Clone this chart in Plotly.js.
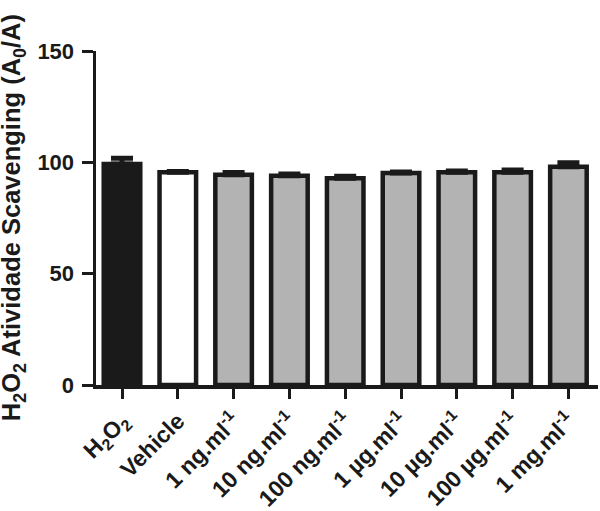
<!DOCTYPE html>
<html>
<head>
<meta charset="utf-8">
<script src="https://cdn.plot.ly/plotly-3.0.1.min.js"></script>
<style>
  html, body { margin: 0; padding: 0; background: #fff; }
  #chart { width: 600px; height: 511px; }
</style>
</head>
<body>
<div id="chart"></div>
<script>
// groups on the x axis
const categories = [
    'H<sub>2</sub>O<sub>2</sub>',
    'Vehicle',
    '1 ng.ml<sup>-1</sup>',
    '10 ng.ml<sup>-1</sup>',
    '100 ng.ml<sup>-1</sup>',
    '1 µg.ml<sup>-1</sup>',
    '10 µg.ml<sup>-1</sup>',
    '100 µg.ml<sup>-1</sup>',
    '1 mg.ml<sup>-1</sup>'
];
// mean scavenging activity and upper error (SEM)
const means = [99.2, 95.5, 94.4, 94.0, 92.8, 95.2, 95.6, 95.6, 98.0];
const errors = [2.6, 0.4, 1.0, 0.8, 1.0, 0.5, 0.5, 1.0, 1.8];
const fills = ['#1a1a1a', '#ffffff', '#b3b3b3', '#b3b3b3', '#b3b3b3', '#b3b3b3', '#b3b3b3', '#b3b3b3', '#b3b3b3'];
const yTicks = [0, 50, 100, 150];

const ink = '#1a1a1a';
const font = { family: 'Liberation Sans, Arial, sans-serif', size: 22, color: ink, weight: 'bold' };

const trace = {
    type: 'bar',
    x: categories,
    y: means,
    width: 0.655,
    marker: {
        color: fills,
        line: { color: ink, width: 4.5 }
    },
    error_y: {
        type: 'data',
        symmetric: false,
        array: errors,
        arrayminus: errors.map(() => 0),
        color: ink,
        thickness: 5,
        width: 11
    },
    hoverinfo: 'none'
};

const layout = {
    width: 600,
    height: 511,
    margin: { l: 96, r: 2, t: 51, b: 126, pad: 0 },
    paper_bgcolor: '#ffffff',
    plot_bgcolor: '#ffffff',
    font: font,
    showlegend: false,
    xaxis: {
        type: 'category',
        range: [-0.466, 8.53],
        showline: true,
        linecolor: ink,
        linewidth: 3.5,
        ticks: 'outside',
        ticklen: 10,
        tickwidth: 3,
        tickcolor: ink,
        tickangle: -45,
        tickfont: Object.assign({}, font, { size: 23 }),
        showgrid: false,
        zeroline: false
    },
    yaxis: {
        range: [0, 150],
        tickvals: yTicks,
        showline: true,
        linecolor: ink,
        linewidth: 3.5,
        ticks: 'outside',
        ticklen: 11,
        tickwidth: 3,
        tickcolor: ink,
        tickfont: font,
        ticklabelstandoff: 3,
        showgrid: false,
        zeroline: false
    },
    annotations: [{
        text: 'H<sub>2</sub>O<sub>2</sub> Atividade Scavenging (A<sub>0</sub>/A)',
        xref: 'paper',
        yref: 'paper',
        x: -0.165,
        y: 0.5,
        xanchor: 'center',
        yanchor: 'middle',
        textangle: -90,
        showarrow: false,
        font: Object.assign({}, font, { size: 25.5 })
    }]
};

Plotly.newPlot('chart', [trace], layout, { displayModeBar: false, staticPlot: true });
</script>
</body>
</html>
